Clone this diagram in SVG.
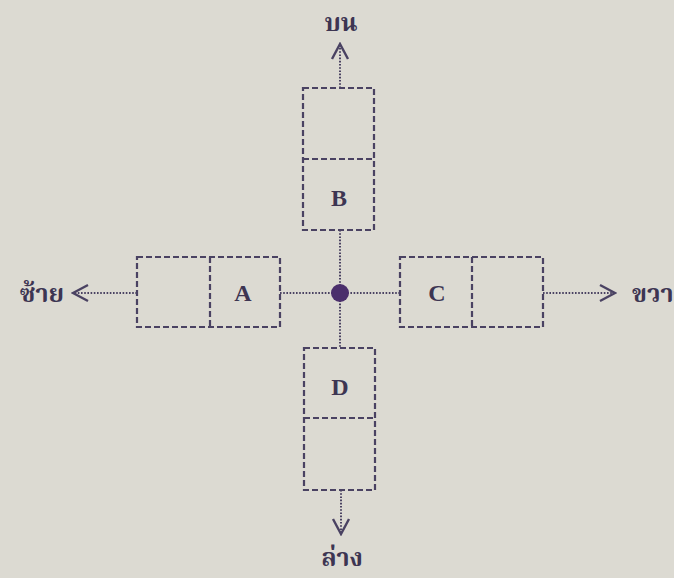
<svg xmlns="http://www.w3.org/2000/svg" width="674" height="578" viewBox="0 0 674 578">
  <defs>
    <style>
      .cell { fill: none; stroke: #4a4262; stroke-width: 2.2; stroke-dasharray: 6 3; }
      .link { fill: none; stroke: #4a4262; stroke-width: 2; stroke-dasharray: 1.6 1.6; }
      .lbl { font-family: "Liberation Serif", "Times New Roman", serif; font-weight: bold; font-size: 24px; fill: #3d3552; text-anchor: middle; }
      .dir { font-family: "Noto Serif Thai", "Noto Sans Thai", "Loma", "Garuda", "Liberation Serif", serif; font-weight: bold; font-size: 25px; fill: #3d3552; }
    </style>
    <marker id="chev" viewBox="0 0 20 20" refX="18" refY="10" markerWidth="20" markerHeight="20" markerUnits="userSpaceOnUse" orient="auto">
      <path d="M3,2 L18,10 L3,18" fill="none" stroke="#4a4262" stroke-width="2.4"/>
    </marker>
  </defs>

  <rect width="674" height="578" fill="#dcdad2"/>

  <g id="connectors">
    <line class="link" x1="340" y1="230" x2="340" y2="348"/>
    <line class="link" x1="280" y1="293" x2="400" y2="293"/>
    <line class="link" x1="340" y1="88" x2="340" y2="44" marker-end="url(#chev)"/>
    <line class="link" x1="137" y1="293" x2="73" y2="293" marker-end="url(#chev)"/>
    <line class="link" x1="543" y1="293" x2="615" y2="293" marker-end="url(#chev)"/>
    <line class="link" x1="341" y1="490" x2="341" y2="534" marker-end="url(#chev)"/>
  </g>

  <g id="node-center">
    <circle cx="340" cy="293" r="9" fill="#4b2f6c"/>
  </g>

  <g id="node-B">
    <rect class="cell" x="303" y="88" width="71" height="142"/>
    <line class="cell" x1="303" y1="159" x2="374" y2="159"/>
    <text class="lbl" x="339" y="206">B</text>
  </g>

  <g id="node-A">
    <rect class="cell" x="137" y="257" width="143" height="70"/>
    <line class="cell" x1="210" y1="257" x2="210" y2="327"/>
    <text class="lbl" x="243" y="301">A</text>
  </g>

  <g id="node-C">
    <rect class="cell" x="400" y="257" width="143" height="70"/>
    <line class="cell" x1="472" y1="257" x2="472" y2="327"/>
    <text class="lbl" x="437" y="301">C</text>
  </g>

  <g id="node-D">
    <rect class="cell" x="304" y="348" width="71" height="142"/>
    <line class="cell" x1="304" y1="418" x2="375" y2="418"/>
    <text class="lbl" x="340" y="395">D</text>
  </g>

  <g id="labels">
    <text class="dir" x="341" y="31" text-anchor="middle">บน</text>
    <text class="dir" x="64" y="302" text-anchor="end">ซ้าย</text>
    <text class="dir" x="632" y="302">ขวา</text>
    <text class="dir" x="342" y="566" text-anchor="middle">ล่าง</text>
  </g>
</svg>
